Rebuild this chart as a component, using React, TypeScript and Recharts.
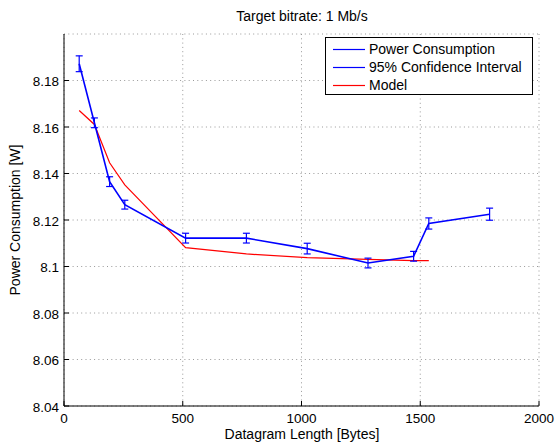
import { CartesianGrid, ComposedChart, Customized, ErrorBar, Legend, Line, XAxis, YAxis } from "recharts"

// datagram lengths in bytes
const lengths = [64, 128, 192, 256, 512, 768, 1024, 1280, 1472, 1536, 1792]
// measured power consumption (W)
const power = [8.1872, 8.1618, 8.1365, 8.1266, 8.1122, 8.1122, 8.1077, 8.1015, 8.1044, 8.1185, 8.1225]
// half width of the 95% confidence interval
const interval = [0.0034, 0.0021, 0.0021, 0.0019, 0.0021, 0.0021, 0.0023, 0.0021, 0.0021, 0.0024, 0.0026]
// model prediction (no value for the last length)
const model = [8.1671, 8.1611, 8.1446, 8.1351, 8.1081, 8.1054, 8.1038, 8.1031, 8.1025, 8.1025, null]

const xTicks = [0, 500, 1000, 1500, 2000]
const yTicks = [8.04, 8.06, 8.08, 8.1, 8.12, 8.14, 8.16, 8.18]

const legendItems = [
    { label: "Power Consumption", color: "#0000ff" },
    { label: "95% Confidence Interval", color: "#0000ff" },
    { label: "Model", color: "#ff0000" },
]

const rows = lengths.map((len, i) => ({
    len,
    power: power[i],
    err: interval[i],
    model: model[i],
}))

const FONT = "'Liberation Sans', Arial, Helvetica, sans-serif"
const FS = 14
const TICK = 5

const BottomTick = (props: any) => {
    const { x, y, payload } = props
    const axisY = y - 7
    return (
        <g>
            <line x1={x} x2={x} y1={axisY} y2={axisY - TICK} stroke="#000" />
            <text x={x} y={y} dy="0.71em" textAnchor="middle" fontSize={13.5} fill="#000">
                {payload.value}
            </text>
        </g>
    )
}

const LeftTick = (props: any) => {
    const { x, y, payload } = props
    const axisX = x + 5
    return (
        <g>
            <line x1={axisX} x2={axisX + TICK} y1={y} y2={y} stroke="#000" />
            <text x={x} y={y} dy="0.42em" textAnchor="end" fontSize={13.5} fill="#000">
                {payload.value}
            </text>
        </g>
    )
}

const TopTick = (props: any) => {
    const { x, y } = props
    return <line x1={x} x2={x} y1={y} y2={y + TICK} stroke="#000" />
}

const RightTick = (props: any) => {
    const { x, y } = props
    return <line x1={x} x2={x - TICK} y1={y} y2={y} stroke="#000" />
}

const Annotations = () => (
    <g fontFamily={FONT} fill="#000">
        <text x={302} y={21} textAnchor="middle" fontSize={FS}>
            Target bitrate: 1 Mb/s
        </text>
        <text x={302} y={439} textAnchor="middle" fontSize={FS}>
            Datagram Length [Bytes]
        </text>
        <text x={20} y={220} textAnchor="middle" fontSize={FS} transform="rotate(-90 20 220)">
            Power Consumption [W]
        </text>
    </g>
)

const LegendBox = () => (
    <div
        style={{
            border: "1px solid #000",
            background: "#fff",
            boxSizing: "border-box",
            width: 208,
            height: 58,
            paddingTop: 2,
            fontFamily: FONT,
            fontSize: FS,
        }}
    >
        {legendItems.map((item) => (
            <div key={item.label} style={{ display: "flex", alignItems: "center", height: 18 }}>
                <svg width={39} height={18} style={{ display: "block" }}>
                    <line x1={7} x2={39} y1={9.5} y2={9.5} stroke={item.color} strokeWidth={1.2} />
                </svg>
                <span style={{ marginLeft: 4, lineHeight: "18px", whiteSpace: "nowrap" }}>{item.label}</span>
            </div>
        ))}
    </div>
)

export default function App() {
    return (
        <div style={{ position: "absolute", left: 0, top: 0, background: "#fff" }}>
            <ComposedChart
                width={555}
                height={446}
                data={rows}
                margin={{ top: 34, right: 16, bottom: 0, left: 0 }}
                style={{ fontFamily: FONT }}
            >
                <CartesianGrid stroke="#999" strokeDasharray="1 3.3" />
                <XAxis
                    dataKey="len"
                    type="number"
                    domain={[0, 2000]}
                    ticks={xTicks}
                    interval={0}
                    height={40}
                    tickSize={0}
                    tickMargin={7}
                    tickLine={false}
                    tick={<BottomTick />}
                    axisLine={{ stroke: "#000" }}
                    allowDataOverflow
                />
                <XAxis
                    xAxisId="top"
                    orientation="top"
                    type="number"
                    domain={[0, 2000]}
                    ticks={xTicks}
                    interval={0}
                    height={0}
                    tickSize={0}
                    tickMargin={0}
                    tickLine={false}
                    tick={<TopTick />}
                    axisLine={{ stroke: "#000" }}
                    allowDataOverflow
                />
                <YAxis
                    type="number"
                    domain={[8.04, 8.2]}
                    ticks={yTicks}
                    interval={0}
                    width={64}
                    tickSize={0}
                    tickMargin={5}
                    tickLine={false}
                    tick={<LeftTick />}
                    axisLine={{ stroke: "#000" }}
                    allowDataOverflow
                />
                <YAxis
                    yAxisId="right"
                    orientation="right"
                    type="number"
                    domain={[8.04, 8.2]}
                    ticks={yTicks}
                    interval={0}
                    width={0}
                    tickSize={0}
                    tickMargin={0}
                    tickLine={false}
                    tick={<RightTick />}
                    axisLine={{ stroke: "#000" }}
                    allowDataOverflow
                />
                <Line
                    dataKey="model"
                    stroke="#ff0000"
                    strokeWidth={1.2}
                    dot={false}
                    activeDot={false}
                    isAnimationActive={false}
                />
                <Line
                    dataKey="power"
                    stroke="#0000ff"
                    strokeWidth={1.6}
                    dot={false}
                    activeDot={false}
                    isAnimationActive={false}
                >
                    <ErrorBar dataKey="err" width={3.5} stroke="#0000ff" strokeWidth={1.2} isAnimationActive={false} />
                </Line>
                <Legend
                    layout="horizontal"
                    verticalAlign="middle"
                    align="center"
                    content={<LegendBox />}
                    wrapperStyle={{ left: 325, top: 37, width: 208, height: 58 }}
                />
                <Customized component={Annotations} />
            </ComposedChart>
        </div>
    )
}
